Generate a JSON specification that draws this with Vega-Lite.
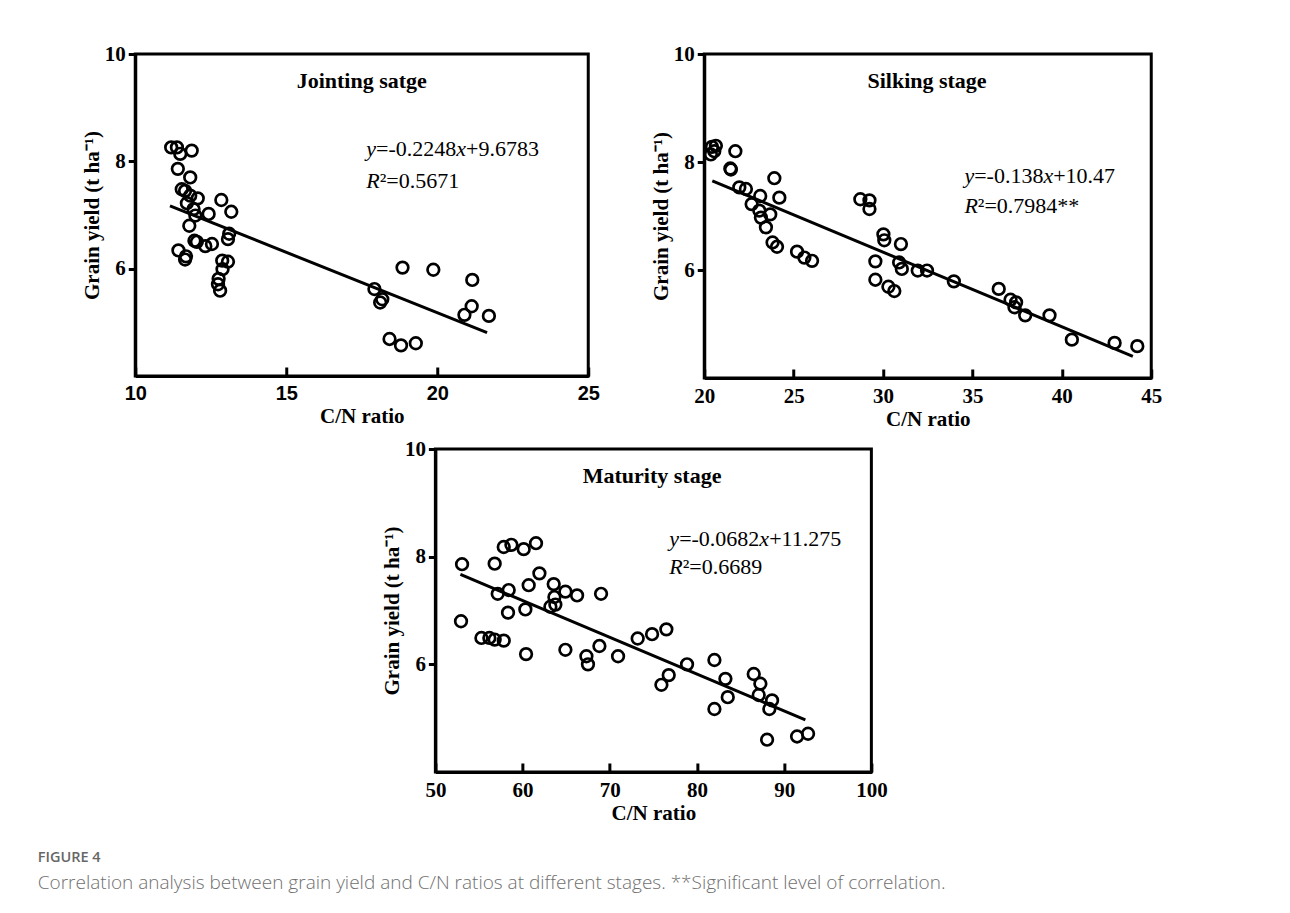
{
  "$schema": "https://vega.github.io/schema/vega-lite/v6.json",
  "padding": {"left": 37, "top": 41, "right": 10, "bottom": 10},
  "background": "white",
  "title": {
    "text": "FIGURE 4",
    "subtitle": "Correlation analysis between grain yield and C/N ratios at different stages. **Significant level of correlation.",
    "orient": "bottom", "anchor": "start", "offset": 26, "dx": -42,
    "font": "Open Sans", "fontSize": 14.5, "fontWeight": 600, "color": "#666666",
    "subtitleFont": "Open Sans", "subtitleFontSize": 19, "subtitleFontWeight": 300, "subtitleColor": "#707070", "subtitlePadding": 9
  },
  "config": {
    "view": {"stroke": "black", "strokeWidth": 3},
    "axis": {
      "grid": false, "domainColor": "black", "domainWidth": 3, "tickColor": "black", "tickWidth": 3,
      "labelFont": "Liberation Serif", "labelFontWeight": "bold", "labelFontSize": 21, "labelColor": "black",
      "titleFont": "Liberation Serif", "titleFontWeight": "bold", "titleFontSize": 21, "titleColor": "black",
      "labelFlush": false, "labelOverlap": false
    },
    "axisX": {"tickSize": -9, "labelPadding": 16, "titlePadding": 2},
    "axisY": {"tickSize": 7, "labelPadding": 3, "titlePadding": 2}
  },
  "datasets": {
    "j": [
      {"r":11.19,"g":8.26},{"r":11.38,"g":8.26},{"r":11.49,"g":8.14},{"r":11.87,"g":8.20},{"r":11.41,"g":7.86},{"r":11.82,"g":7.70},{"r":11.54,"g":7.48},{"r":11.65,"g":7.45},{"r":11.82,"g":7.36},{"r":12.07,"g":7.31},{"r":11.71,"g":7.22},{"r":11.93,"g":7.11},{"r":11.99,"g":6.99},{"r":12.43,"g":7.02},{"r":12.85,"g":7.28},{"r":13.18,"g":7.06},{"r":11.79,"g":6.80},{"r":11.96,"g":6.52},{"r":12.04,"g":6.50},{"r":12.32,"g":6.42},{"r":12.54,"g":6.46},{"r":11.43,"g":6.34},{"r":11.68,"g":6.23},{"r":11.65,"g":6.17},{"r":13.07,"g":6.55},{"r":13.11,"g":6.65},{"r":12.88,"g":6.15},{"r":13.07,"g":6.13},{"r":12.89,"g":5.99},{"r":12.76,"g":5.81},{"r":12.74,"g":5.71},{"r":12.81,"g":5.59},{"r":17.92,"g":5.62},{"r":18.11,"g":5.37},{"r":18.18,"g":5.43},{"r":18.85,"g":6.02},{"r":19.87,"g":5.98},{"r":21.16,"g":5.79},{"r":21.14,"g":5.30},{"r":20.90,"g":5.14},{"r":21.71,"g":5.12},{"r":18.42,"g":4.69},{"r":18.80,"g":4.57},{"r":19.29,"g":4.61}
    ],
    "s": [
      {"r":20.43,"g":8.28},{"r":20.65,"g":8.30},{"r":20.56,"g":8.20},{"r":20.37,"g":8.14},{"r":21.74,"g":8.20},{"r":21.46,"g":7.88},{"r":21.49,"g":7.86},{"r":21.96,"g":7.53},{"r":22.33,"g":7.50},{"r":23.92,"g":7.70},{"r":23.13,"g":7.37},{"r":24.20,"g":7.34},{"r":22.65,"g":7.22},{"r":23.08,"g":7.10},{"r":23.17,"g":6.97},{"r":23.69,"g":7.03},{"r":23.45,"g":6.79},{"r":23.82,"g":6.51},{"r":24.07,"g":6.43},{"r":25.19,"g":6.34},{"r":25.60,"g":6.23},{"r":26.03,"g":6.17},{"r":28.73,"g":7.31},{"r":29.24,"g":7.29},{"r":29.24,"g":7.13},{"r":30.02,"g":6.66},{"r":30.07,"g":6.55},{"r":31.00,"g":6.48},{"r":29.57,"g":6.16},{"r":30.90,"g":6.14},{"r":31.05,"g":6.02},{"r":31.94,"g":5.99},{"r":32.46,"g":5.99},{"r":29.57,"g":5.82},{"r":30.30,"g":5.69},{"r":30.63,"g":5.61},{"r":33.96,"g":5.79},{"r":36.47,"g":5.65},{"r":37.13,"g":5.45},{"r":37.44,"g":5.40},{"r":37.35,"g":5.31},{"r":37.95,"g":5.16},{"r":39.31,"g":5.16},{"r":40.56,"g":4.71},{"r":42.95,"g":4.65},{"r":44.22,"g":4.59}
    ],
    "m": [
      {"r":53.06,"g":7.86},{"r":52.94,"g":6.80},{"r":56.80,"g":7.87},{"r":57.84,"g":8.18},{"r":58.72,"g":8.22},{"r":60.13,"g":8.14},{"r":61.54,"g":8.25},{"r":61.93,"g":7.69},{"r":57.15,"g":7.31},{"r":58.41,"g":7.38},{"r":58.33,"g":6.96},{"r":60.70,"g":7.47},{"r":60.32,"g":7.02},{"r":63.57,"g":7.49},{"r":63.65,"g":7.25},{"r":63.76,"g":7.11},{"r":63.19,"g":7.07},{"r":64.91,"g":7.35},{"r":66.25,"g":7.28},{"r":69.00,"g":7.31},{"r":55.28,"g":6.49},{"r":56.19,"g":6.49},{"r":56.80,"g":6.46},{"r":57.84,"g":6.44},{"r":60.40,"g":6.19},{"r":64.91,"g":6.27},{"r":67.32,"g":6.15},{"r":67.50,"g":6.00},{"r":68.81,"g":6.34},{"r":70.95,"g":6.15},{"r":73.20,"g":6.48},{"r":74.85,"g":6.56},{"r":76.49,"g":6.65},{"r":75.92,"g":5.62},{"r":76.76,"g":5.80},{"r":78.86,"g":6.00},{"r":82.00,"g":6.08},{"r":83.26,"g":5.73},{"r":83.53,"g":5.39},{"r":82.00,"g":5.17},{"r":86.51,"g":5.82},{"r":87.27,"g":5.64},{"r":87.08,"g":5.43},{"r":88.61,"g":5.33},{"r":88.30,"g":5.17},{"r":88.04,"g":4.60},{"r":91.48,"g":4.66},{"r":92.74,"g":4.71}
    ],
    "jl": [{"r":11.15,"g":7.17},{"r":21.65,"g":4.81}],
    "sl": [{"r":20.45,"g":7.65},{"r":43.97,"g":4.40}],
    "ml": [{"r":52.87,"g":7.67},{"r":92.43,"g":4.97}]
  },
  "center": true,
  "spacing": 5,
  "vconcat": [
    {
      "spacing": 47,
      "hconcat": [
        {
          "width": 453, "height": 322,
          "encoding": {
            "x": {"field": "r", "type": "quantitative", "scale": {"domain": [10, 25], "nice": false},
                  "axis": {"title": "C/N ratio", "values": [10, 15, 20, 25], "labelFont": "Liberation Sans", "labelFontSize": 20}},
            "y": {"field": "g", "type": "quantitative", "scale": {"domain": [4, 10], "nice": false},
                  "axis": {"title": "Grain yield (t ha⁻¹)", "values": [6, 8, 10]}}
          },
          "layer": [
            {"data": {"name": "jl"}, "mark": {"type": "line", "color": "black", "strokeWidth": 3}},
            {"data": {"name": "j"}, "mark": {"type": "point", "filled": false, "stroke": "black", "strokeWidth": 2.7, "size": 135, "opacity": 1}},
            {"data": {"values": [{"r": 17.5, "g": 9.5, "t": "Jointing satge"}]},
             "mark": {"type": "text", "font": "Liberation Serif", "fontWeight": "bold", "fontSize": 22, "align": "center", "baseline": "middle", "color": "black"},
             "encoding": {"text": {"field": "t"}}},
            {"data": {"values": [{"r": 17.65, "g": 8.23, "t": "y"}, {"r": 17.65, "g": 7.64, "t": "R"}]},
             "mark": {"type": "text", "font": "Liberation Serif", "fontStyle": "italic", "fontSize": 22, "align": "left", "baseline": "middle", "color": "black"},
             "encoding": {"text": {"field": "t"}}},
            {"data": {"values": [{"r": 17.65, "g": 8.23, "t": "=-0.2248"}]},
             "mark": {"type": "text", "font": "Liberation Serif", "fontSize": 22, "align": "left", "baseline": "middle", "color": "black", "dx": 9.8},
             "encoding": {"text": {"field": "t"}}},
            {"data": {"values": [{"r": 17.65, "g": 8.23, "t": "x"}]},
             "mark": {"type": "text", "font": "Liberation Serif", "fontStyle": "italic", "fontSize": 22, "align": "left", "baseline": "middle", "color": "black", "dx": 90},
             "encoding": {"text": {"field": "t"}}},
            {"data": {"values": [{"r": 17.65, "g": 8.23, "t": "+9.6783"}]},
             "mark": {"type": "text", "font": "Liberation Serif", "fontSize": 22, "align": "left", "baseline": "middle", "color": "black", "dx": 99.8},
             "encoding": {"text": {"field": "t"}}},
            {"data": {"values": [{"r": 17.65, "g": 7.64, "t": "²=0.5671"}]},
             "mark": {"type": "text", "font": "Liberation Serif", "fontSize": 22, "align": "left", "baseline": "middle", "color": "black", "dx": 13.4},
             "encoding": {"text": {"field": "t"}}}
          ]
        },
        {
          "width": 447, "height": 324,
          "resolve": {"axis": {"y": "independent"}},
          "encoding": {
            "x": {"field": "r", "type": "quantitative", "scale": {"domain": [20, 45], "nice": false},
                  "axis": {"title": "C/N ratio", "values": [20, 25, 30, 35, 40, 45]}},
            "y": {"field": "g", "type": "quantitative", "scale": {"domain": [4, 10], "nice": false}, "axis": null}
          },
          "layer": [
            {"data": {"name": "sl"}, "mark": {"type": "line", "color": "black", "strokeWidth": 3},
             "encoding": {"y": {"field": "g", "type": "quantitative", "scale": {"domain": [4, 10], "nice": false},
                                "axis": {"orient": "right", "values": [6], "labels": false, "domain": false, "title": null, "tickSize": 36, "tickOpacity": 0}}}},
            {"data": {"name": "s"}, "mark": {"type": "point", "filled": false, "stroke": "black", "strokeWidth": 2.7, "size": 135, "opacity": 1},
             "encoding": {"y": {"field": "g", "type": "quantitative", "scale": {"domain": [4, 10], "nice": false},
                                "axis": {"orient": "left", "title": "Grain yield (t ha⁻¹)", "values": [6, 8, 10]}}}},
            {"data": {"values": [{"r": 32.46, "g": 9.5, "t": "Silking stage"}]},
             "mark": {"type": "text", "font": "Liberation Serif", "fontWeight": "bold", "fontSize": 22, "align": "center", "baseline": "middle", "color": "black"},
             "encoding": {"text": {"field": "t"}}},
            {"data": {"values": [{"r": 34.55, "g": 7.74, "t": "y"}, {"r": 34.55, "g": 7.19, "t": "R"}]},
             "mark": {"type": "text", "font": "Liberation Serif", "fontStyle": "italic", "fontSize": 22, "align": "left", "baseline": "middle", "color": "black"},
             "encoding": {"text": {"field": "t"}}},
            {"data": {"values": [{"r": 34.55, "g": 7.74, "t": "=-0.138"}]},
             "mark": {"type": "text", "font": "Liberation Serif", "fontSize": 22, "align": "left", "baseline": "middle", "color": "black", "dx": 9.8},
             "encoding": {"text": {"field": "t"}}},
            {"data": {"values": [{"r": 34.55, "g": 7.74, "t": "x"}]},
             "mark": {"type": "text", "font": "Liberation Serif", "fontStyle": "italic", "fontSize": 22, "align": "left", "baseline": "middle", "color": "black", "dx": 79},
             "encoding": {"text": {"field": "t"}}},
            {"data": {"values": [{"r": 34.55, "g": 7.74, "t": "+10.47"}]},
             "mark": {"type": "text", "font": "Liberation Serif", "fontSize": 22, "align": "left", "baseline": "middle", "color": "black", "dx": 88.8},
             "encoding": {"text": {"field": "t"}}},
            {"data": {"values": [{"r": 34.55, "g": 7.19, "t": "²=0.7984**"}]},
             "mark": {"type": "text", "font": "Liberation Serif", "fontSize": 22, "align": "left", "baseline": "middle", "color": "black", "dx": 13.4},
             "encoding": {"text": {"field": "t"}}}
          ]
        }
      ]
    },
    {
      "width": 436, "height": 323,
      "encoding": {
        "x": {"field": "r", "type": "quantitative", "scale": {"domain": [50, 100], "nice": false},
              "axis": {"title": "C/N ratio", "values": [50, 60, 70, 80, 90, 100]}},
        "y": {"field": "g", "type": "quantitative", "scale": {"domain": [4, 10], "nice": false},
              "axis": {"title": "Grain yield (t ha⁻¹)", "values": [6, 8, 10]}}
      },
      "layer": [
        {"data": {"name": "ml"}, "mark": {"type": "line", "color": "black", "strokeWidth": 3}},
        {"data": {"name": "m"}, "mark": {"type": "point", "filled": false, "stroke": "black", "strokeWidth": 2.7, "size": 135, "opacity": 1}},
        {"data": {"values": [{"r": 74.85, "g": 9.49, "t": "Maturity stage"}]},
         "mark": {"type": "text", "font": "Liberation Serif", "fontWeight": "bold", "fontSize": 22, "align": "center", "baseline": "middle", "color": "black"},
         "encoding": {"text": {"field": "t"}}},
        {"data": {"values": [{"r": 76.83, "g": 8.33, "t": "y"}, {"r": 76.83, "g": 7.81, "t": "R"}]},
         "mark": {"type": "text", "font": "Liberation Serif", "fontStyle": "italic", "fontSize": 22, "align": "left", "baseline": "middle", "color": "black"},
         "encoding": {"text": {"field": "t"}}},
        {"data": {"values": [{"r": 76.83, "g": 8.33, "t": "=-0.0682"}]},
         "mark": {"type": "text", "font": "Liberation Serif", "fontSize": 22, "align": "left", "baseline": "middle", "color": "black", "dx": 9.8},
         "encoding": {"text": {"field": "t"}}},
        {"data": {"values": [{"r": 76.83, "g": 8.33, "t": "x"}]},
         "mark": {"type": "text", "font": "Liberation Serif", "fontStyle": "italic", "fontSize": 22, "align": "left", "baseline": "middle", "color": "black", "dx": 90},
         "encoding": {"text": {"field": "t"}}},
        {"data": {"values": [{"r": 76.83, "g": 8.33, "t": "+11.275"}]},
         "mark": {"type": "text", "font": "Liberation Serif", "fontSize": 22, "align": "left", "baseline": "middle", "color": "black", "dx": 99.8},
         "encoding": {"text": {"field": "t"}}},
        {"data": {"values": [{"r": 76.83, "g": 7.81, "t": "²=0.6689"}]},
         "mark": {"type": "text", "font": "Liberation Serif", "fontSize": 22, "align": "left", "baseline": "middle", "color": "black", "dx": 13.4},
         "encoding": {"text": {"field": "t"}}}
      ]
    }
  ]
}
